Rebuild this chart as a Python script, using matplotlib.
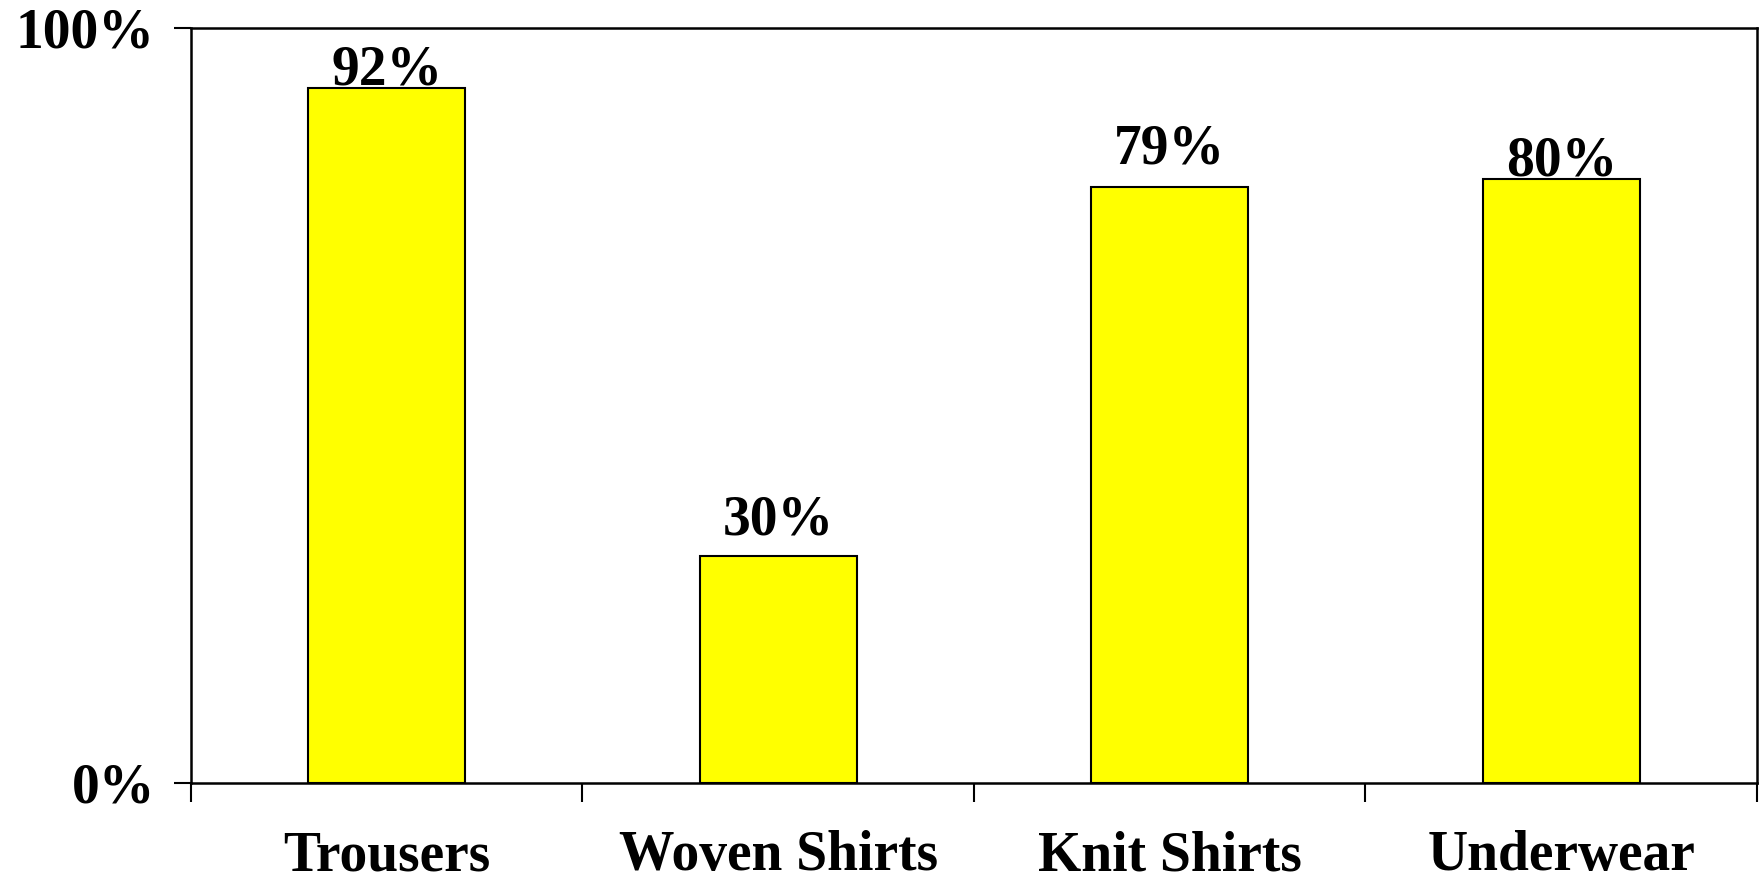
import matplotlib
matplotlib.use('Agg')
import matplotlib.pyplot as plt
import numpy as np

# Данные с картинки
categories = ['Trousers', 'Woven Shirts', 'Knit Shirts', 'Underwear']
values = [0.92, 0.30, 0.79, 0.80]
value_labels = ['92%', '30%', '79%', '80%']
y_ticks = [0.0, 1.0]
y_tick_labels = ['0%', '100%']

# Отступ подписи над столбцом (в пунктах)
label_pads = [-6, 7, 8, -6]

plt.rcParams['font.family'] = ['Liberation Serif', 'DejaVu Serif']
plt.rcParams['font.weight'] = 'bold'

fig = plt.figure(figsize=(17.6, 8.83), dpi=100)
ax = fig.add_axes([0.1085, 0.1133, 0.8898, 0.855])

x = np.arange(len(categories))
ax.bar(x, values, width=0.40, color='#FFFF00', edgecolor='black', linewidth=1.5)

for xi, v, lab, pad in zip(x, values, value_labels, label_pads):
    ax.annotate(lab, (xi, v), xytext=(0, pad), textcoords='offset points',
                ha='center', va='bottom', fontsize=40, fontweight='bold')

ax.set_xlim(-0.5, len(categories) - 0.5)
ax.set_ylim(0, 1)

ax.set_yticks(y_ticks)
ax.set_yticklabels(y_tick_labels, fontsize=40, fontweight='bold')
ax.tick_params(axis='y', length=12, width=1.5, pad=14)

# Деления на границах категорий, подписи по центрам
ax.set_xticks(np.arange(len(categories) + 1) - 0.5)
ax.set_xticklabels([])
ax.tick_params(axis='x', which='major', length=14, width=1.5)
ax.set_xticks(x, minor=True)
ax.set_xticklabels(categories, minor=True, fontsize=40, fontweight='bold')
ax.tick_params(axis='x', which='minor', length=0, pad=34)

for s in ax.spines.values():
    s.set_linewidth(1.8)

fig.savefig('out.png', dpi=100)
plt.close()
